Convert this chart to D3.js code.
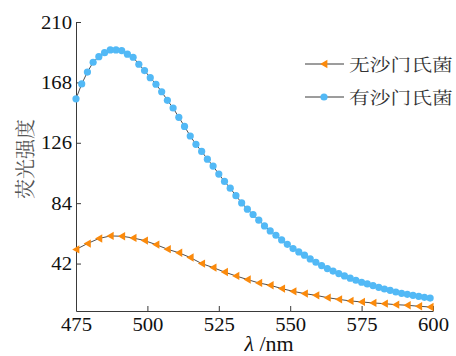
<!DOCTYPE html>
<html lang="zh">
<head>
<meta charset="UTF-8">
<title>荧光强度</title>
<style>
  body { margin: 0; background: #fff; }
  svg { display: block; }
</style>
</head>
<body>
<div id="chart"></div>
<script src="https://cdn.jsdelivr.net/npm/d3@7/dist/d3.min.js"></script>
<script>
// wavelengths (nm) and intensities
const blueWave = [475,477,479,481,483,485,487,489,491,493,495,497,499,501,503,505,507,509,511,513,515,517,519,521,523,525,527,529,531,533,535,537,539,541,543,545,547,549,551,553,555,557,559,561,563,565,567,569,571,573,575,577,579,581,583,585,587,589,591,593,595,597,599];
const blueVals = [156.6,166.9,175.2,182.0,185.9,188.7,190.6,190.6,190.1,187.6,185.5,180.6,176.2,171.3,166.7,161.5,155.5,150.2,143.7,137.4,130.7,124.9,120.0,114.6,109.8,104.2,99.1,94.4,89.2,84.2,79.8,76.1,72.2,68.2,64.7,61.7,58.4,55.4,52.4,50.1,47.8,45.2,42.9,40.6,38.5,36.8,35.0,33.4,31.8,30.4,29.0,27.8,26.7,25.5,24.3,23.4,22.2,21.3,20.6,19.9,19.2,18.5,18.0];

const orangeWave = [475,479,483,487,491,495,499,503,507,511,515,519,523,527,531,535,539,543,547,551,555,559,563,567,571,575,579,583,587,591,595,599];
const orangeVals = [51.8,55.9,59.4,61.2,61.0,59.8,58.0,55.2,52.0,49.5,46.2,42.0,39.2,36.1,33.4,30.9,28.5,26.9,24.6,22.7,21.1,19.9,18.3,17.1,16.0,15.3,14.6,14.1,13.4,13.0,12.3,11.8];

const xTicks = [475, 500, 525, 550, 575, 600];
const yTicks = [42, 84, 126, 168, 210];
const seriesNames = ["无沙门氏菌", "有沙门氏菌"];

const W = 456, H = 356;
const orange = "#fb8a0c", blue = "#52b9f6", lineCol = "#3a3a3a";

const svg = d3.select("#chart").append("svg")
    .attr("width", W).attr("height", H);

const x = d3.scaleLinear().domain([475, 600]).range([76, 433]);
const y = d3.scaleLinear().domain([9, 210]).range([311, 22]);

// axes (ticks point inward)
const serif = "'Liberation Serif', 'Times New Roman', serif";

const gx = svg.append("g").attr("transform", `translate(0,${y.range()[0]})`)
    .call(d3.axisBottom(x).tickValues(xTicks).tickSize(-5).tickPadding(0).tickSizeOuter(0));
const gy = svg.append("g").attr("transform", `translate(${x.range()[0]},0)`)
    .call(d3.axisLeft(y).tickValues(yTicks).tickSize(-5).tickPadding(0).tickSizeOuter(0));

[gx, gy].forEach(g => {
    g.select(".domain").attr("stroke", lineCol).attr("stroke-width", 1);
    g.selectAll(".tick line").attr("stroke", lineCol).attr("stroke-width", 1);
    g.selectAll(".tick text").text(null);
});

gx.selectAll(".tick").each(function(d) {
    d3.select(this).append("text")
        .attr("transform", "translate(0,20) scale(1.15,1)")
        .attr("text-anchor", "middle")
        .attr("fill", "#111")
        .style("font-family", serif).style("font-size", "18px")
        .text(d);
});
gy.selectAll(".tick").each(function(d) {
    d3.select(this).append("text")
        .attr("transform", "translate(-4,6) scale(1.15,1)")
        .attr("text-anchor", "end")
        .attr("fill", "#111")
        .style("font-family", serif).style("font-size", "18px")
        .text(d);
});

// axis titles
svg.append("text")
    .attr("transform", "translate(33,159) rotate(-90)")
    .attr("text-anchor", "middle")
    .attr("fill", "#555")
    .style("font-family", "'Noto Serif CJK SC','Noto Sans CJK SC', sans-serif")
    .style("font-size", "20px")
    .text("荧光强度");

const xl = svg.append("text")
    .attr("transform", "translate(269,351) scale(1.1,1)")
    .attr("text-anchor", "middle")
    .attr("fill", "#111")
    .style("font-family", serif).style("font-size", "20px");
xl.append("tspan").style("font-style", "italic").text("λ");
xl.append("tspan").text(" /nm");

// series
const line = d3.line().x(d => x(d[0])).y(d => y(d[1]));
const blueData = blueWave.map((w, i) => [w, blueVals[i]]);
const orangeData = orangeWave.map((w, i) => [w, orangeVals[i]]);

[blueData, orangeData].forEach(data => {
    svg.append("path").datum(data)
        .attr("d", line)
        .attr("fill", "none")
        .attr("stroke", lineCol)
        .attr("stroke-width", 0.9);
});

const tri = d3.symbol().type(d3.symbolTriangle).size(30);

svg.append("g").selectAll("path")
    .data(orangeData)
    .join("path")
    .attr("d", tri)
    .attr("transform", d => `translate(${x(d[0]) + 1},${y(d[1])}) rotate(-90)`)
    .attr("fill", orange);

svg.append("g").selectAll("circle")
    .data(blueData)
    .join("circle")
    .attr("cx", d => x(d[0]))
    .attr("cy", d => y(d[1]))
    .attr("r", 3.6)
    .attr("fill", blue);

// legend
const legend = svg.append("g");
seriesNames.forEach((name, i) => {
    const ly = 64 + i * 33;
    const g = legend.append("g").attr("transform", `translate(305,${ly})`);
    g.append("line").attr("x1", 0).attr("x2", 39).attr("y1", 0).attr("y2", 0)
        .attr("stroke", lineCol).attr("stroke-width", 1);
    if (i === 0) {
        g.append("path").attr("d", tri)
            .attr("transform", "translate(20,0) rotate(-90)")
            .attr("fill", orange);
    } else {
        g.append("circle").attr("cx", 19).attr("cy", 0).attr("r", 3.6).attr("fill", blue);
    }
    g.append("text")
        .attr("transform", "translate(44,7) scale(1.22,1)")
        .attr("fill", "#333")
        .style("font-family", "'Noto Serif CJK SC','Noto Sans CJK SC', sans-serif")
        .style("font-size", "17px")
        .text(name);
});
</script>
</body>
</html>
